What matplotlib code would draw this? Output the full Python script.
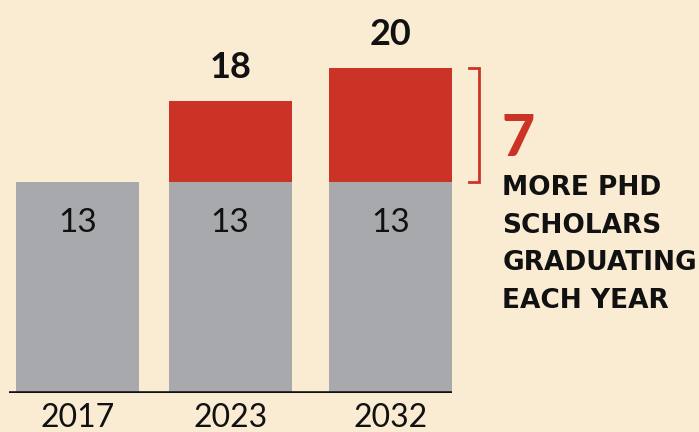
import numpy as np
import matplotlib.pyplot as plt

years = ['2017', '2023', '2032']
base = [13, 13, 13]
totals = [13, 18, 20]
extra = [t - b for t, b in zip(totals, base)]
increase = totals[-1] - base[-1]
note_lines = ['MORE PHD', 'SCHOLARS', 'GRADUATING', 'EACH YEAR']

bg = '#FAEBD3'
grey = '#A7A9AC'
red = '#CC3327'
ink = '#111111'

fig = plt.figure(figsize=(6.99, 4.32), dpi=100, facecolor=bg)
ax = fig.add_axes([0, 39 / 432, 1, 393 / 432])
ax.set_facecolor(bg)
ax.set_xlim(-0.495, 3.971)
ax.set_ylim(0, 393 / 16.23)
ax.axis('off')

x = np.array([0, 0.975, 2])
w = 0.786
ax.bar(x, base, width=w, color=grey, zorder=2)
ax.bar(x[1:], extra[1:], bottom=base[1:], width=w, color=red, zorder=2)
ax.hlines(0, -0.44, 2.395, color=ink, lw=2.6, zorder=3)

for xi, b, t, yr in zip(x, base, totals, years):
    ax.text(xi, b - 2.5, str(b), ha='center', va='center', fontsize=24,
            family='Lato', color=ink)
    ax.text(xi, -1.55, yr, ha='center', va='center', fontsize=23,
            family='Lato', color=ink)
    if t > b:
        ax.text(xi, t + 1.05, str(t), ha='center', va='bottom', fontsize=26,
                family='Lato', weight='bold', color=ink)

# bracket for the increase
bx = 2.566
ax.plot([bx - 0.064, bx, bx, bx - 0.064], [totals[-1], totals[-1], base[-1], base[-1]],
        color=red, lw=2, solid_joinstyle='miter', zorder=3)
ax.text(2.71, 14.6, str(increase), ha='left', va='baseline', fontsize=41,
        family='Lato', weight='black', color=red)
for i, line in enumerate(note_lines):
    ax.text(2.715, (393 - 195 - 37.7 * i) / 16.23, line, ha='left', va='baseline',
            fontsize=19, family='DejaVu Sans', weight='bold', color=ink)

fig.savefig('out.png', dpi=100, facecolor=bg)
